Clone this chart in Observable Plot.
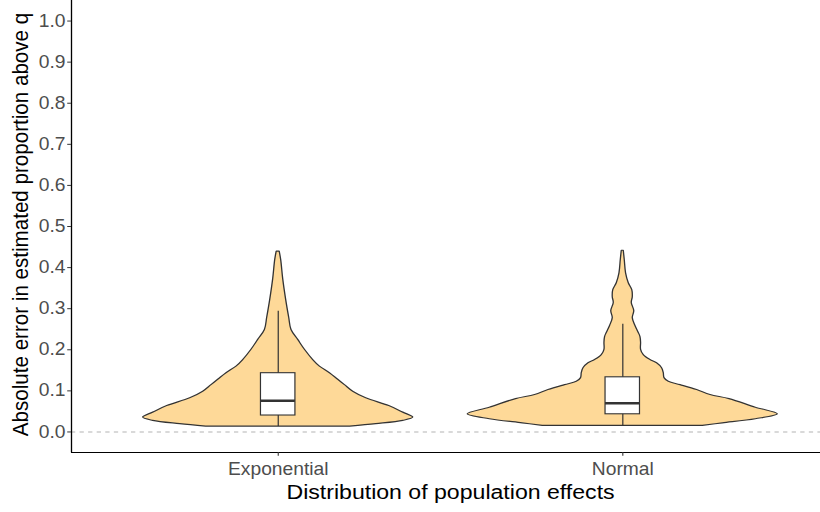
<!DOCTYPE html>
<html>
<head>
<meta charset="utf-8">
<script src="https://cdn.jsdelivr.net/npm/d3@7"></script>
<script src="https://cdn.jsdelivr.net/npm/@observablehq/plot@0.6"></script>
<style>
  body { margin: 0; background: #fff; }
  /* the figure is laid out at 1/1.1 width and widened to the page */
  #chart svg { display: block; transform: scaleX(1.1); transform-origin: 0 0; }
</style>
</head>
<body>
<div id="chart"></div>
<script>
// Categories along x (positions 1 and 2)
const categories = ["Exponential", "Normal"];

// Violin density profiles: absolute error value and kernel density
const expValue   = [0.013, 0.019, 0.027, 0.035, 0.047, 0.063, 0.082, 0.098, 0.114, 0.127, 0.143, 0.159, 0.175, 0.200, 0.224, 0.248, 0.278, 0.321, 0.372, 0.418, 0.439];
const expDensity = [7.2,   9.8,   12.5,  13.5,  12.5,  11.1,  8.8,   7.5,   6.67,  6.0,   5.17,  4.17,  3.5,   2.67,  2.0,   1.33,  1.1,   0.8,   0.5,   0.3,   0.15];

const normValue   = [0.015, 0.021, 0.031, 0.043, 0.059, 0.080, 0.090, 0.102, 0.114, 0.122, 0.131, 0.143, 0.155, 0.167, 0.175, 0.187, 0.200, 0.217, 0.231, 0.241, 0.258, 0.277, 0.294, 0.314, 0.328, 0.345, 0.362, 0.386, 0.418, 0.441];
const normDensity = [8.0,   10.0,  13.3,  15.5,  13.3,  10.67, 8.77,  7.43,  5.77,  4.6,   4.17,  4.1,   3.93,  3.43,  2.77,  2.1,   1.83,  1.83,  1.77,  1.6,   1.27,  1.0,   1.15,  0.9,   1.0,   0.95,  0.6,   0.33,  0.2,   0.1];

// Boxplot summaries per category
const boxMin    = [0.013, 0.015];
const boxQ1     = [0.040, 0.043];
const boxMedian = [0.076, 0.070];
const boxQ3     = [0.143, 0.133];
const boxMax    = [0.294, 0.262];

// Axis ticks and titles
const yTicks = d3.range(0, 11).map(i => i / 10);
const xTitle = "Distribution of population effects";
const yTitle = "Absolute error in estimated proportion above q";

const xDomain = [0.4, 2.574];
const yDomain = [-0.05, 1.05];
const violinWidth = 0.9;
const boxWidth = 0.1;

// Violins share one density scale (area scaling)
const maxDensity = d3.max([...expDensity, ...normDensity]);
const profiles = [[expValue, expDensity], [normValue, normDensity]];
const violinRows = profiles.flatMap(([vals, dens], i) =>
  vals.map((v, j) => ({cat: i + 1, v, hw: (violinWidth / 2) * dens[j] / maxDensity}))
);

const boxes = categories.map((c, i) => ({
  cat: i + 1, min: boxMin[i], q1: boxQ1[i], median: boxMedian[i], q3: boxQ3[i], max: boxMax[i]
}));

const ink = "#333333";
const fillColor = "#FED998";

const chart = Plot.plot({
  width: 745.5,
  height: 512,
  marginLeft: 64.5,
  marginRight: 0,
  marginTop: 0,
  marginBottom: 60,
  style: {fontFamily: "'Liberation Sans', Arial, sans-serif", background: "#fff"},
  x: {type: "linear", domain: xDomain},
  y: {domain: yDomain},
  marks: [
    Plot.ruleY([0], {stroke: "#B3B3B3", strokeWidth: 1.1, strokeDasharray: "3.9,3.9"}),
    Plot.areaX(violinRows, {
      y: "v",
      x1: d => d.cat - d.hw,
      x2: d => d.cat + d.hw,
      z: "cat",
      fill: fillColor,
      stroke: ink,
      strokeWidth: 1.2,
      curve: "catmull-rom"
    }),
    Plot.ruleX(boxes, {x: "cat", y1: "min", y2: "max", stroke: ink, strokeWidth: 1.1}),
    Plot.rect(boxes, {
      x1: d => d.cat - boxWidth / 2, x2: d => d.cat + boxWidth / 2,
      y1: "q1", y2: "q3",
      fill: "white", stroke: ink, strokeWidth: 1.1
    }),
    Plot.ruleY(boxes, {
      y: "median",
      x1: d => d.cat - boxWidth / 2, x2: d => d.cat + boxWidth / 2,
      stroke: ink, strokeWidth: 2.6
    }),
    // axis lines (left and bottom)
    Plot.ruleX([xDomain[0]], {stroke: "black", strokeWidth: 1.2}),
    Plot.ruleY([yDomain[0]], {stroke: "black", strokeWidth: 1.2}),
    Plot.axisY({
      ticks: yTicks, tickFormat: d => d.toFixed(1),
      tickSize: 3.4, tickPadding: 2, fontSize: 17.5,
      fill: "#4D4D4D", stroke: ink, label: null
    }),
    Plot.axisX({
      ticks: categories.map((c, i) => i + 1), tickFormat: i => categories[i - 1],
      tickSize: 3.7, tickPadding: 6, fontSize: 17.5,
      fill: "#4D4D4D", stroke: ink, label: null
    }),
    Plot.text([xTitle], {
      x: d3.mean(categories, (c, i) => i + 1),
      frameAnchor: "bottom", dy: 39.5,
      text: d => d, fontSize: 21, fill: "black", lineAnchor: "middle"
    }),
    Plot.text([yTitle], {
      frameAnchor: "left", rotate: -90, dx: -46, dy: -2,
      text: d => d, fontSize: 20.6, fill: "black",
      textAnchor: "middle", lineAnchor: "middle"
    })
  ]
});

document.getElementById("chart").appendChild(chart);
</script>
</body>
</html>
